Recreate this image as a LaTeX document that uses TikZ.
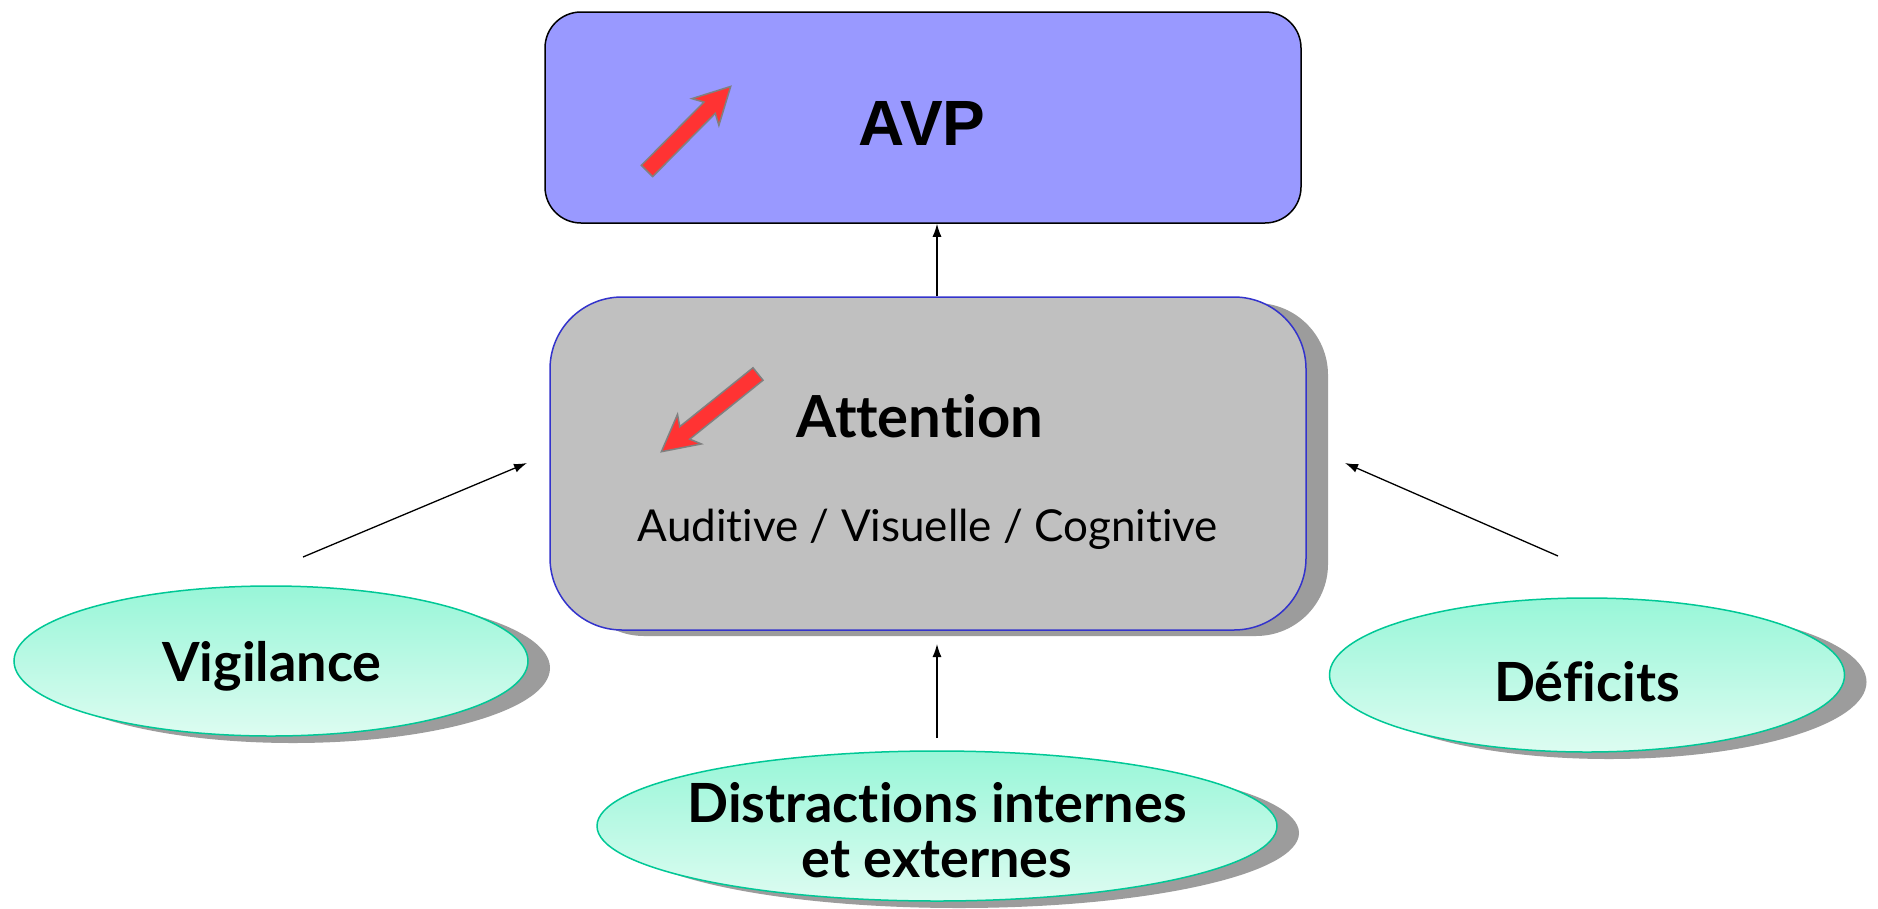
\documentclass[tikz,border=0pt]{standalone}
\usepackage{fontspec}
\setmainfont[Ligatures={NoCommon,NoRequired,NoContextual}]{Lato}
\newfontfamily\avpfont{Liberation Sans}
\usetikzlibrary{shapes.geometric,shadows,arrows.meta,calc}
\definecolor{avpblue}{HTML}{9999FF}
\definecolor{attgray}{HTML}{C0C0C0}
\definecolor{attborder}{HTML}{3333CC}
\definecolor{shadowgray}{HTML}{9C9C9C}
\definecolor{elltop}{HTML}{98F6D8}
\definecolor{ellbot}{HTML}{DDFCF1}
\definecolor{ellborder}{HTML}{00C896}
\definecolor{redfill}{HTML}{FF3333}
\definecolor{redline}{HTML}{808080}
\tikzset{
  avpbox/.style={draw=black, line width=1.5pt, fill=avpblue, rounded corners=36pt, inner sep=0pt},
  attbox/.style={draw=attborder, line width=1.5pt, fill=attgray, rounded corners=72pt, inner sep=0pt,
    drop shadow={shadow xshift=22pt, shadow yshift=-6pt, fill=shadowgray, opacity=1}},
  oval/.style={ellipse, draw=ellborder, line width=1.5pt, top color=elltop, bottom color=ellbot, inner sep=0pt,
    drop shadow={shadow xshift=22pt, shadow yshift=-7pt, fill=shadowgray, opacity=1}},
  ovaltext/.style={font=\fontsize{54}{55}\selectfont\bfseries, align=center, inner sep=0pt},
  conn/.style={draw=black, line width=1.3pt, -{Latex[length=13pt,width=9pt]}},
  redarrow/.style={fill=redfill, draw=redline, line width=1.5pt, line join=miter},
}
\newcommand{\bigarrow}[1]{%
  \path[redarrow] (0,-8) -- (#1-30,-8) -- (#1-36,-19) -- (#1,0) -- (#1-36,19) -- (#1-30,8) -- (0,8) -- cycle;}
\begin{document}
\begin{tikzpicture}[x=1pt,y=-1pt]
\useasboundingbox[fill=white] (0,0) rectangle (1878,908);

% boxes
\node[avpbox, minimum width=756pt, minimum height=211pt] (avp) at (923,117.5) {};
\node[font=\avpfont\fontsize{64}{70}\selectfont\bfseries] (avptxt) at (922,123) {AVP};

\node[attbox, minimum width=756pt, minimum height=333pt] (att) at (928,463.5) {};
\node[font=\fontsize{58}{60}\selectfont\bfseries] (atttxt) at (920,416) {Attention};
\node[font=\fontsize{44}{52}\selectfont] (attsub) at (928,529) {Auditive / Visuelle / Cognitive};

% red arrows
\begin{scope}[shift={(647,171)}, rotate=45.3]
  \bigarrow{119}
\end{scope}
\begin{scope}[shift={(758,374)}, rotate=218.8]
  \bigarrow{124}
\end{scope}

% ellipses
\node[oval, minimum width=514pt, minimum height=150pt] (vig) at (271,661) {};
\node[ovaltext] (vigtxt) at (272,666) {Vigilance};
\node[oval, minimum width=515pt, minimum height=154pt] (def) at (1587,675) {};
\node[ovaltext] (deftxt) at (1587,682) {Déficits};
\node[oval, minimum width=680pt, minimum height=150pt] (dist) at (937,826) {};
\node[ovaltext] (disttxt) at (937,830) {Distractions internes\\et externes};

% connectors
\coordinate (cx) at (937,0);
\draw[conn] (cx |- att.north) -- (cx |- avp.south);
\coordinate (vigs) at (303,557);
\coordinate (vige) at (527,463);
\draw[conn] (vigs) -- (vige);
\coordinate (defs) at (1558,556);
\coordinate (defe) at (1345,463);
\draw[conn] (defs) -- (defe);
\coordinate (dists) at (937,738);
\draw[conn] (dists) -- (cx |- 0,644);
\end{tikzpicture}
\end{document}
